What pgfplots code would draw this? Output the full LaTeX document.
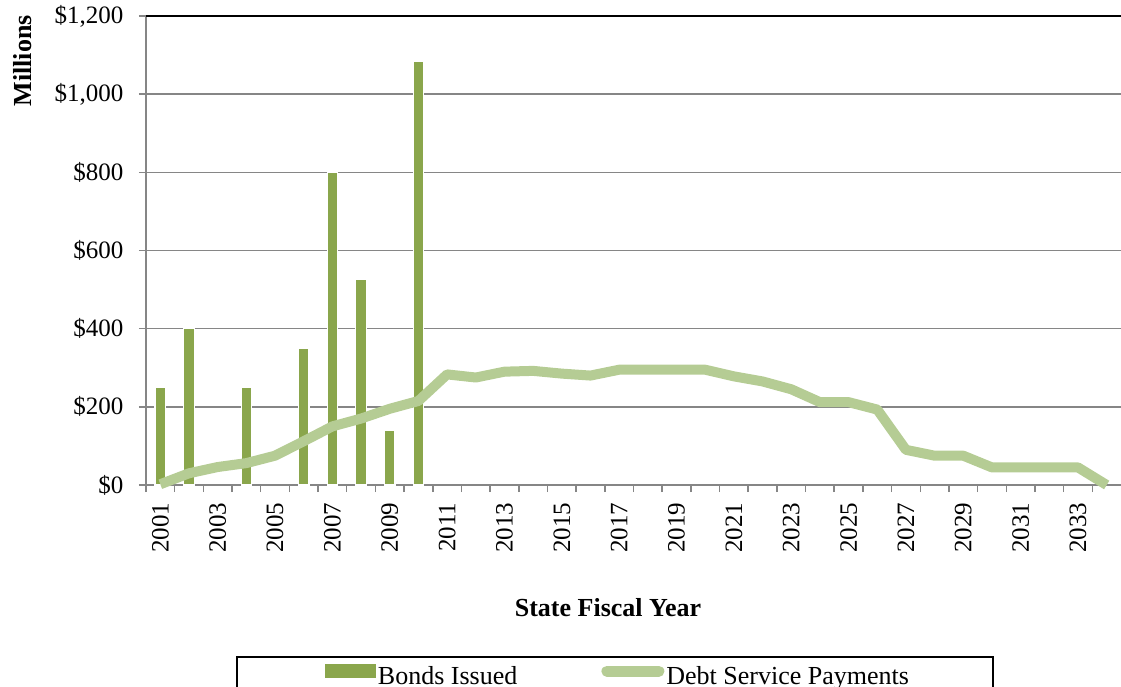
\documentclass[border=0pt]{standalone}
\usepackage{pgfplots}
\pgfplotsset{compat=1.18}
\usepackage{fontspec}
\setmainfont{Liberation Serif}
\definecolor{barc}{HTML}{8AA64C}
\definecolor{linec}{HTML}{B5CC94}
\definecolor{gridc}{HTML}{868686}
\begin{document}
\begin{tikzpicture}
\begin{axis}[
  at={(146pt,201pt)},
  scale only axis,
  width=975pt, height=469pt,
  xmin=-0.5, xmax=33.5,
  ymin=0, ymax=1200,
  clip=false,
  axis x line*=bottom,
  axis y line*=left,
  axis line style={gridc, line width=1.8pt, -},
  tick align=outside,
  major tick length=7pt,
  tick style={gridc, line width=1.5pt},
  ytick={0,200,...,1200},
  yticklabels={\$0,\$200,\$400,\$600,\$800,{\$1,000},{\$1,200}},
  yticklabel style={font=\fontsize{25}{30}\selectfont, xshift=-12pt},
  ymajorgrids,
  grid style={gridc, line width=1.6pt},
  xtick={-0.5,0.5,...,32.5},
  xticklabels={},
  extra x ticks={0,2,...,32},
  extra x tick labels={2001,2003,2005,2007,2009,2011,2013,2015,2017,2019,2021,2023,2025,2027,2029,2031,2033},
  extra x tick style={major tick length=0pt, grid=none,
    tick label style={yshift=-14pt, rotate=90, anchor=east,
      font=\fontsize{25}{30}\selectfont}},
  ylabel={\textbf{Millions}},
  ylabel style={at={(axis description cs:-0.1169,1.002)}, anchor=south east,
    inner sep=0pt, font=\fontsize{26}{30}\selectfont},
  xlabel={\textbf{State Fiscal Year}},
  xlabel style={at={(axis description cs:0.4738,-0.2814)}, anchor=base,
    font=\fontsize{26}{30}\selectfont},
  legend columns=2,
  legend style={at={(axis description cs:0.484,-0.377)}, anchor=north,
    draw=none, fill=none, font=\fontsize{26}{30}\selectfont,
    nodes={inner sep=2pt},
    /tikz/every even column/.append style={column sep=82pt}},
]
\addplot[ybar, bar width=10.5pt, fill=barc, draw=white, line width=1.2pt,
  legend image code/.code={\fill[barc] (0pt,-1pt) rectangle (50pt,12pt);}]
  coordinates {(0,250) (1,400) (3,250) (5,350) (6,800) (7,525) (8,140) (9,1085)};
\addlegendentry{Bonds Issued}
\addplot[sharp plot, linec, line width=10pt, line join=round,
  legend image code/.code={\draw[linec, line width=11pt, line cap=round] (5pt,5.5pt) -- (57pt,5.5pt);}]
  coordinates {(0,2) (1,30) (2,46) (3,56) (4,75) (5,112) (6,150) (7,170) (8,195) (9,215)
    (10,283) (11,275) (12,290) (13,292) (14,285) (15,280) (16,295) (17,295) (18,295) (19,295)
    (20,278) (21,265) (22,245) (23,212) (24,212) (25,193) (26,90) (27,75) (28,75) (29,45)
    (30,45) (31,45) (32,45) (33,0)};
\addlegendentry{Debt Service Payments}
\end{axis}
\draw[black, line width=1.3pt] (146pt,670pt) -- (1121pt,670pt);
\draw[black, line width=1.5pt] (237pt,-30pt) rectangle (993pt,29pt);
\pgfresetboundingbox
\path[use as bounding box] (0pt,0pt) rectangle (1121pt,686pt);
\end{tikzpicture}
\end{document}
